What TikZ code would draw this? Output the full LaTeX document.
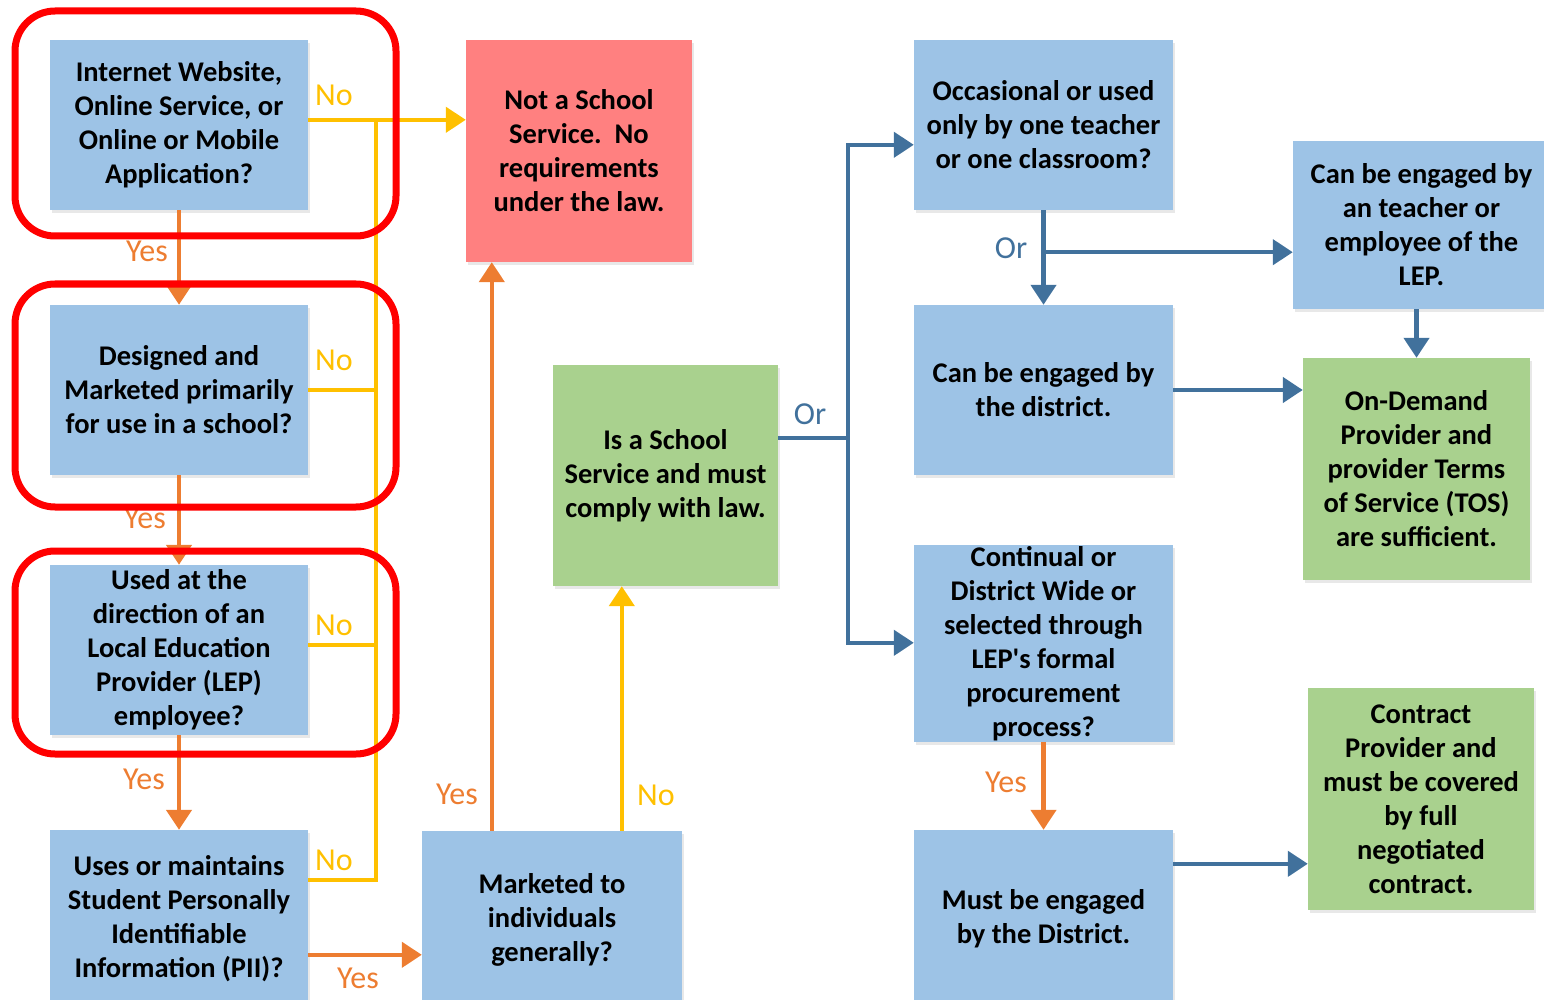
\documentclass[tikz,border=0pt]{standalone}
\usepackage{fontspec}
\setmainfont{Carlito}
\usetikzlibrary{arrows.meta,calc,shadows}
\definecolor{boxblue}{HTML}{9DC3E6}
\definecolor{boxpink}{HTML}{FF8080}
\definecolor{boxgreen}{HTML}{A9D18E}
\definecolor{aorange}{HTML}{ED7D31}
\definecolor{ayellow}{HTML}{FFC000}
\definecolor{ablue}{HTML}{41719C}
\tikzset{
  qbox/.style={fill=boxblue, text=black, align=center, inner sep=0pt,
    minimum width=258pt, minimum height=170pt,
    font=\bfseries\fontsize{28.5}{34}\selectfont,
    drop shadow={opacity=0.18, shadow xshift=2pt, shadow yshift=-3pt}},
  pinkbox/.style={qbox, fill=boxpink},
  greenbox/.style={qbox, fill=boxgreen},
  yesline/.style={draw=aorange, line width=4.5pt},
  noline/.style={draw=ayellow, line width=4.5pt},
  orline/.style={draw=ablue, line width=4.5pt},
  tip/.style={-{Triangle[length=20pt,width=25pt]}},
  yeslab/.style={text=aorange, font=\fontsize{32}{34}\selectfont, inner sep=0pt},
  nolab/.style={text=ayellow, font=\fontsize{32}{34}\selectfont, inner sep=0pt},
  orlab/.style={text=ablue, font=\fontsize{32}{34}\selectfont, inner sep=0pt},
  hilite/.style={draw=red, line width=7pt, rounded corners=40pt},
}
\begin{document}
\begin{tikzpicture}[x=1pt,y=-1pt]
\useasboundingbox (0,0) rectangle (1544,1000);
% left column
\node[qbox] (A) at (179,125) {Internet Website,\\Online Service, or\\Online or Mobile\\Application?};
\node[qbox] (B) at (179,390) {Designed and\\Marketed primarily\\for use in a school?};
\node[qbox] (C) at (179,650) {Used at the\\direction of an\\Local Education\\Provider (LEP)\\employee?};
\node[qbox, minimum height=180pt] (D) at (179,920) {\raisebox{4pt}{\begin{tabular}{@{}c@{}}Uses or maintains\\Student Personally\\Identifiable\\Information (PII)?\end{tabular}}};
% middle
\node[pinkbox, minimum width=226pt, minimum height=222pt] (N) at (579,151) {Not a School\\Service.\ \ No\\requirements\\under the law.};
\node[qbox, minimum width=260pt, minimum height=180pt] (M) at (552,921) {\raisebox{3pt}{\begin{tabular}{@{}c@{}}Marketed to\\individuals\\generally?\end{tabular}}};
\node[greenbox, minimum width=225pt, minimum height=221pt] (S) at (665.5,475.5) {Is a School\\Service and must\\comply with law.};
% right middle column
\node[qbox, minimum width=259pt] (O) at (1043.5,125) {Occasional or used\\only by one teacher\\or one classroom?};
\node[qbox, minimum width=259pt] (E) at (1043.5,390) {Can be engaged by\\the district.};
\node[qbox, minimum width=259pt, minimum height=197pt] (W) at (1043.5,643.5) {Continual or\\District Wide or\\selected through\\LEP\textquotesingle s formal\\procurement\\process?};
\node[qbox, minimum width=259pt, minimum height=180pt] (X) at (1043.5,920) {\raisebox{4pt}{\begin{tabular}{@{}c@{}}Must be engaged\\by the District.\end{tabular}}};
% right column
\node[qbox, minimum width=257pt, minimum height=168pt] (T) at (1421.5,225) {Can be engaged by\\an teacher or\\employee of the\\LEP.};
\node[greenbox, minimum width=227pt, minimum height=222pt] (P) at (1416.5,469) {On-Demand\\Provider and\\provider Terms\\of Service (TOS)\\are sufficient.};
\node[greenbox, minimum width=226pt, minimum height=222pt] (K) at (1421,799) {Contract\\Provider and\\must be covered\\by full\\negotiated\\contract.};

% Yes arrows (orange)
\draw[yesline, tip] (A) -- (B);
\draw[yesline, tip] (B) -- (C);
\draw[yesline, tip] (C) -- (D);
\coordinate (dy) at ($(D.north east)+(0,125)$);
\draw[yesline, tip] (dy) -- (dy -| M.west);
\coordinate (my) at ($(M.north west)+(70,0)$);
\draw[yesline, tip] (my) -- (my |- N.south);
\draw[yesline, tip] (W) -- (X);
% No lines (yellow)
\coordinate (ay) at ($(A.north east)+(0,80)$);
\coordinate (bus) at ($(ay)+(68,0)$);
\coordinate (dn) at ($(D.north east)+(0,50)$);
\draw[noline, tip] (ay) -- (ay -| N.west);
\draw[noline] (bus) -- (bus |- dn) -- (dn);
\draw[noline] (B.east) -- (B.east -| bus);
\coordinate (cn) at ($(C.east)+(0,-5)$);
\draw[noline] (cn) -- (cn -| bus);
\coordinate (mn) at ($(M.north west)+(200,0)$);
\draw[noline, tip] (mn) -- (mn |- S.south);
% Or lines (blue)
\coordinate (sb) at ($(S.north east)+(0,73)$);
\coordinate (obus) at ($(sb)+(70,0)$);
\coordinate (ot) at ($(O.north west)+(0,105)$);
\coordinate (wt) at ($(W.north west)+(0,98)$);
\draw[orline] (sb) -- (obus);
\draw[orline, tip] (obus) |- (ot);
\draw[orline, tip] (obus) |- (wt);
\draw[orline, tip] (O) -- (E);
\coordinate (ob) at ($(O.south)+(0,42)$);
\draw[orline, tip] (ob) -- (ob -| T.west);
\draw[orline, tip] (E.east) -- (E.east -| P.west);
\draw[orline, tip] (T.south -| P.north) -- (P.north);
\coordinate (xe) at ($(X.north east)+(0,34)$);
\draw[orline, tip] (xe) -- (xe -| K.west);

% labels
\node[yeslab] (y1) at (147,251) {Yes};
\node[yeslab] (y2) at (145,518) {Yes};
\node[yeslab] (y3) at (144,779) {Yes};
\node[yeslab] (y4) at (358,978) {Yes};
\node[yeslab] (y5) at (457,794) {Yes};
\node[yeslab] (y6) at (1006,782) {Yes};
\node[nolab] (n1) at (334,95) {No};
\node[nolab] (n2) at (334,360) {No};
\node[nolab] (n3) at (334,625) {No};
\node[nolab] (n4) at (334,860) {No};
\node[nolab] (n5) at (656,795) {No};
\node[orlab] (o1) at (810,414) {Or};
\node[orlab] (o2) at (1011,248) {Or};

% red highlight frames
\draw[hilite] (15,11) rectangle (396,236);
\draw[hilite] (15,284) rectangle (396,507);
\draw[hilite] (15,551) rectangle (396,754);
\end{tikzpicture}
\end{document}
